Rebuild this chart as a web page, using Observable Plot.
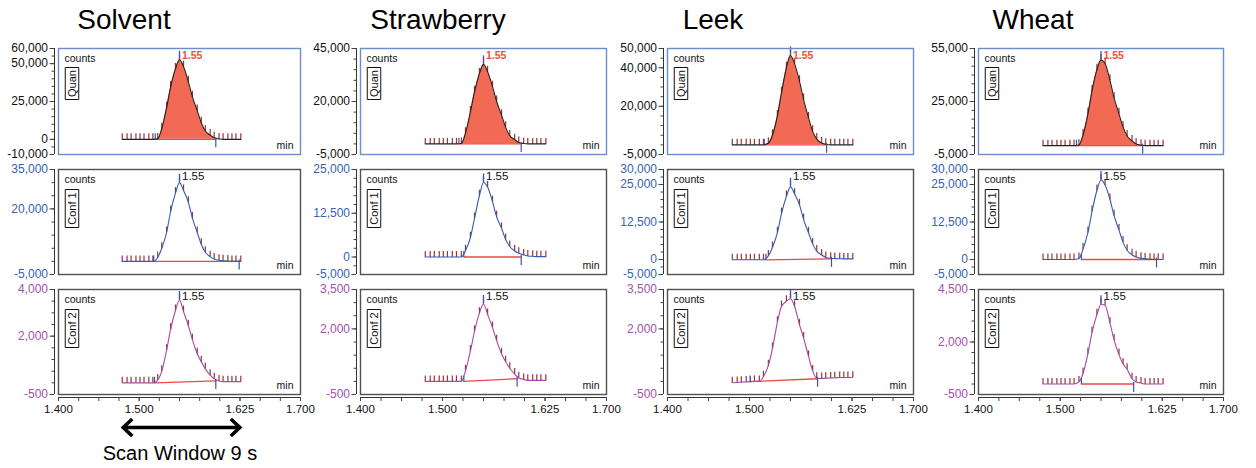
<!DOCTYPE html>
<html><head><meta charset="utf-8">
<script src="https://cdn.jsdelivr.net/npm/d3@7"></script>
<script src="https://cdn.jsdelivr.net/npm/@observablehq/plot@0.6"></script>
<style>
body{margin:0;background:#fff;}
#chart{position:relative;width:1256px;height:468px;overflow:hidden;font-family:'Liberation Sans',Arial,sans-serif;background:#fff;}
#chart svg{position:absolute;}
.title{position:absolute;font-size:28px;line-height:1;color:#000;transform:translateX(-50%);white-space:nowrap;}
.note{position:absolute;font-size:20px;line-height:1;color:#000;transform:translateX(-50%);white-space:nowrap;}
</style></head><body><div id="chart"></div>
<script>
// ---------- data ----------
const samples = ["Solvent", "Strawberry", "Leek", "Wheat"];
const traces = ["Quan", "Conf 1", "Conf 2"];
const scanWindowLabel = "Scan Window 9 s";

const scanTimes = [1.479, 1.485, 1.490, 1.496, 1.501, 1.506, 1.512, 1.517, 1.523, 1.528, 1.534, 1.539, 1.545, 1.550,
  1.555, 1.561, 1.566, 1.572, 1.577, 1.582, 1.588, 1.593, 1.599, 1.604, 1.610, 1.615, 1.620, 1.626];

const solventQuan = [0,0,0,0,0,0,0,0, 300,7000,21000,34500,46500,52600,48000,38000,28000,19000,11000,5500,2800,1000,300, 0,0,0,0,0];
const solventConf1 = [0,0,0,0,0,0,0,0, 1500,5000,11000,19000,26000,30000,27000,22500,16500,11000,6500,3500,1800,900,400, 200,100,0,0,0];
const solventConf2 = [0,0,0,0,0,0,0,0, 120,500,1400,2300,3100,3550,3050,2450,1850,1250,900,600,330,170,80, 50,50,50,50,50];

const strawberryQuan = [0,0,0,0,0,0,0,0, 200,5000,15000,24500,33000,37500,34000,27000,20000,13500,7800,3900,2000,700,200, 0,0,0,0,0];
const strawberryConf1 = [0,0,0,0,0,0,0,0, 0,1800,5500,11000,17500,21300,20000,15800,11500,8200,5000,3000,1700,1100,600, 300,200,100,100,100];
const strawberryConf2 = [0,0,0,0,0,0,0,0, 0,400,1150,1900,2600,2950,2550,2050,1550,1050,750,500,280,140,70, 40,40,40,40,40];

const leekQuan = [0,0,0,0,0,0,0,0, 800,5000,15000,27000,40000,46400,42000,33000,23500,14000,7000,3000,1000,300,0, 0,0,0,0,0];
const leekConf1 = [-100,-100,-100,-100,-100,-100,-100,-100, 1200,4000,8900,15300,21000,24200,21800,18200,13300,8900,5200,2800,1500,700,400, 300,250,200,200,200];
const leekConf2 = [-50,-40,-30,-20,-10,0,0,180, 600,1250,2250,2850,3050,3150,2850,2150,1650,950,400,120, 110,120,130,140,150,150,150,160];

const wheatQuan = [0,0,0,0,0,0,0,0, 300,6000,18000,31000,43000,48500,46500,37000,27000,18000,10500,5500,2700,1000,300, 0,0,0,0,0];
const wheatConf1 = [0,0,0,0,0,0,0,0, 300,3500,9000,16000,23000,26500,24800,20000,14600,9800,5800,3100,1600,800,400, 200,100,0,0,0];
const wheatConf2 = [0,0,0,0,0,0,0,0, 100,500,1450,2450,3300,3800,3750,2900,2100,1400,950,700,250,100,50, 0,0,0,0,0];

// integration start / end (min) and baseline level there, per sample: [Quan, Conf 1, Conf 2]
const peakStart = [[1.520,1.518,1.519],[1.520,1.526,1.526],[1.518,1.520,1.501],[1.520,1.526,1.526]];
const peakEnd   = [[1.595,1.624,1.595],[1.596,1.596,1.591],[1.594,1.600,1.583],[1.601,1.618,1.590]];
const baseAtStart = [[0,0,0],[0,0,0],[0,-100,-10],[0,0,0]];
const baseAtEnd   = [[0,0,80],[0,0,100],[0,200,100],[0,0,0]];

const yDomains = [
  [[-10000,60000],[-5000,35000],[-500,4000]],
  [[-5000,45000],[-5000,25000],[-500,3500]],
  [[-5000,50000],[-5000,30000],[-500,3500]],
  [[-5000,55000],[-5000,30000],[-500,4500]]
];
const yTickValues = [
  [[60000,50000,25000,0,-10000],[35000,20000,-5000],[4000,2000,-500]],
  [[45000,20000,-5000],[25000,12500,0,-5000],[3500,2000,-500]],
  [[50000,40000,20000,-5000],[30000,25000,12500,0,-5000],[3500,2000,-500]],
  [[55000,25000,-5000],[30000,25000,12500,0,-5000],[4500,2000,-500]]
];
const yMinorSteps = [[5000,5000,500],[5000,2500,500],[5000,2500,500],[5000,2500,500]];
const xTickLabels = [1.400, 1.500, 1.625, 1.700];
const xTickStep = 0.025;
const xDomain = [1.4, 1.7];

const series = [
  [solventQuan, solventConf1, solventConf2],
  [strawberryQuan, strawberryConf1, strawberryConf2],
  [leekQuan, leekConf1, leekConf2],
  [wheatQuan, wheatConf1, wheatConf2]
];

// ---------- layout & style ----------
const colLeft = [58, 360, 667, 978];
const colWidth = [242, 246, 246, 245];
const rowTop = [48, 169, 289];
const rowH = [106, 105, 105];
const titleCenter = [124, 438, 713, 1033];

const frameColors = ["#6a8dcb", "#505050", "#505050"];
const lineColors = ["#222222", "#2f5db5", "#a24aa8"];
const labelColors = ["#111111", "#3563b5", "#a352ad"];
const quanFill = "#f26a54";
const scanTickColor = "#8a1f1f";
const markerBlue = "#3456b8";
const integColor = "#ee4848";

const fmtY = d3.formatLocale({decimal: ".", thousands: ",", grouping: [3], currency: ["$", ""], minus: "-"}).format(",");
const fmtX = d3.format(".3f");
const fmtRT = d3.format(".2f");

const tickUp = {draw(ctx) { ctx.moveTo(0, 0); ctx.lineTo(0, -6); }};
const tickDown = {draw(ctx) { ctx.moveTo(0, -2); ctx.lineTo(0, 8); }};
const apexTick = {draw(ctx) { ctx.moveTo(0, -1); ctx.lineTo(0, -9); }};
const boxSym = (w, h) => ({draw(ctx) { ctx.rect(-w / 2, -h / 2, w, h); }});
const chevLeft = {draw(ctx) { ctx.moveTo(10, -8.5); ctx.lineTo(1, 0); ctx.lineTo(10, 8.5); }};
const chevRight = {draw(ctx) { ctx.moveTo(-10, -8.5); ctx.lineTo(-1, 0); ctx.lineTo(-10, 8.5); }};

const chart = document.getElementById("chart");
const FONT = "'Liberation Sans', Arial, sans-serif";

samples.forEach((name, s) => {
  const div = document.createElement("div");
  div.className = "title";
  div.textContent = name;
  div.style.left = titleCenter[s] + "px";
  div.style.top = "6px";
  chart.appendChild(div);
});

function panel(s, r) {
  const vals = series[s][r];
  const data = scanTimes.map((t, i) => ({t, v: vals[i]}));
  const [lo, hi] = yDomains[s][r];
  const t0 = peakStart[s][r], t1 = peakEnd[s][r];
  const b0 = baseAtStart[s][r], b1 = baseAtEnd[s][r];
  const base = t => b0 + (b1 - b0) * (t - t0) / (t1 - t0);
  const peakData = [{t: t0, v: b0}, ...data.filter(d => d.t > t0 && d.t < t1), {t: t1, v: b1}];
  const apex = data[d3.maxIndex(vals)];
  const bottom = r === 2;
  const mT = 10, mB = bottom ? 32 : 10, mL = 58, mR = 6;
  const W = mL + colWidth[s] + mR, H = mT + rowH[r] + mB;
  const minor = d3.range(lo, hi + yMinorSteps[s][r] / 2, yMinorSteps[s][r]);
  const isQuan = r === 0;
  const boxW = 13.5, boxH = isQuan ? 32 : 38, boxCy = isQuan ? 35 : 39;

  const marks = [
    Plot.ruleX([xDomain[0]], {dx: -4, stroke: "#333", strokeWidth: 1}),
    Plot.axisY(minor, {tickSize: 2.5, dx: -4, stroke: "#444", fill: "none", label: null}),
    Plot.axisY(yTickValues[s][r], {tickSize: 4.5, tickPadding: 2, dx: -4, stroke: "#444", fill: labelColors[r],
      fontSize: 12, tickFormat: fmtY, label: null}),
  ];
  if (isQuan) {
    marks.push(Plot.areaY(peakData, {x: "t", y1: d => base(d.t), y2: "v", fill: quanFill, curve: "monotone-x"}));
  }
  marks.push(
    Plot.line([{t: t0, v: b0}, {t: t1, v: b1}], {x: "t", y: "v", stroke: integColor, strokeWidth: 1.3}),
    Plot.dot(data, {x: "t", y: "v", symbol: tickUp, fill: "none", stroke: scanTickColor, strokeWidth: 1.2, strokeOpacity: 0.9}),
    Plot.line(data, {x: "t", y: "v", stroke: lineColors[r], strokeWidth: 1.1, curve: "monotone-x"}),
    Plot.dot([{t: t0, v: b0}], {x: "t", y: "v", symbol: tickUp, fill: "none", stroke: markerBlue, strokeWidth: 1.2}),
    Plot.dot([{t: t1, v: b1}], {x: "t", y: "v", symbol: tickDown, fill: "none", stroke: markerBlue, strokeWidth: 1.2}),
    Plot.dot([apex], {x: "t", y: "v", symbol: apexTick, fill: "none", stroke: markerBlue, strokeWidth: 1.3}),
    Plot.text([apex], {x: "t", frameAnchor: "top", dy: 7, text: d => fmtRT(d.t), dx: 2.5, textAnchor: "start", lineAnchor: "middle",
      fill: isQuan ? "#f0503a" : "#111", fontWeight: isQuan ? "bold" : "normal", fontSize: isQuan ? 10.5 : 11.5}),
    Plot.text(["counts"], {frameAnchor: "top-left", dx: 6, dy: 6, textAnchor: "start", lineAnchor: "top", fontSize: 10.5, fill: "#111"}),
    Plot.text(["min"], {frameAnchor: "bottom-right", dx: -7, dy: -6, textAnchor: "end", lineAnchor: "bottom", fontSize: 10.5, fill: "#111"}),
    Plot.dot([0], {frameAnchor: "top-left", dx: 13.5, dy: boxCy, symbol: boxSym(boxW, boxH), fill: "white", stroke: "#111", strokeWidth: 1}),
    Plot.text([traces[r]], {frameAnchor: "top-left", dx: 13.5, dy: boxCy, rotate: -90, textAnchor: "middle", lineAnchor: "middle", fontSize: 11, fill: "#111"}),
    Plot.frame({stroke: frameColors[r], strokeWidth: 1.4})
  );
  if (bottom) {
    const xMinor = d3.range(xDomain[0], xDomain[1] + xTickStep / 2, xTickStep);
    marks.push(
      Plot.ruleY([lo], {dy: 3, stroke: "#333", strokeWidth: 1}),
      Plot.axisX(xMinor, {tickSize: 4, dy: 3, stroke: "#444", fill: "none", label: null}),
      Plot.axisX(xTickLabels, {tickSize: 4, tickPadding: 3, dy: 3, stroke: "#444", fill: "#111", fontSize: 11.5, tickFormat: fmtX, label: null})
    );
  }
  const svg = Plot.plot({
    width: W, height: H, marginLeft: mL, marginRight: mR, marginTop: mT, marginBottom: mB,
    x: {domain: xDomain, label: null, ...(bottom ? {} : {axis: null})},
    y: {domain: [lo, hi], label: null},
    style: {fontFamily: FONT, fontSize: "11px", overflow: "visible", background: "transparent"},
    marks
  });
  svg.style.left = (colLeft[s] - mL) + "px";
  svg.style.top = (rowTop[r] - mT) + "px";
  chart.appendChild(svg);
}

samples.forEach((_, s) => traces.forEach((_, r) => panel(s, r)));

// scan window arrow under the Solvent column (spans the first to last scan)
const windowEnds = [scanTimes[0], scanTimes[scanTimes.length - 1]];
const arrow = Plot.plot({
  width: 58 + colWidth[0] + 6, height: 30, marginLeft: 58, marginRight: 6, marginTop: 0, marginBottom: 0,
  x: {domain: xDomain, axis: null}, y: {domain: [-1, 1], axis: null},
  style: {overflow: "visible", background: "transparent"},
  marks: [
    Plot.link([windowEnds], {x1: d => d[0] + 0.002, x2: d => d[1] - 0.002, y1: () => 0, y2: () => 0,
      stroke: "#000", strokeWidth: 3.4}),
    Plot.dot([windowEnds[0]], {x: d => d, y: () => 0, symbol: chevLeft, fill: "none", stroke: "#000", strokeWidth: 3.6, strokeLinejoin: "miter"}),
    Plot.dot([windowEnds[1]], {x: d => d, y: () => 0, symbol: chevRight, fill: "none", stroke: "#000", strokeWidth: 3.6, strokeLinejoin: "miter"})
  ]
});
arrow.style.left = "0px";
arrow.style.top = "412px";
chart.appendChild(arrow);

const note = document.createElement("div");
note.className = "note";
note.textContent = scanWindowLabel;
note.style.left = "180px";
note.style.top = "443px";
chart.appendChild(note);
</script></body></html>
